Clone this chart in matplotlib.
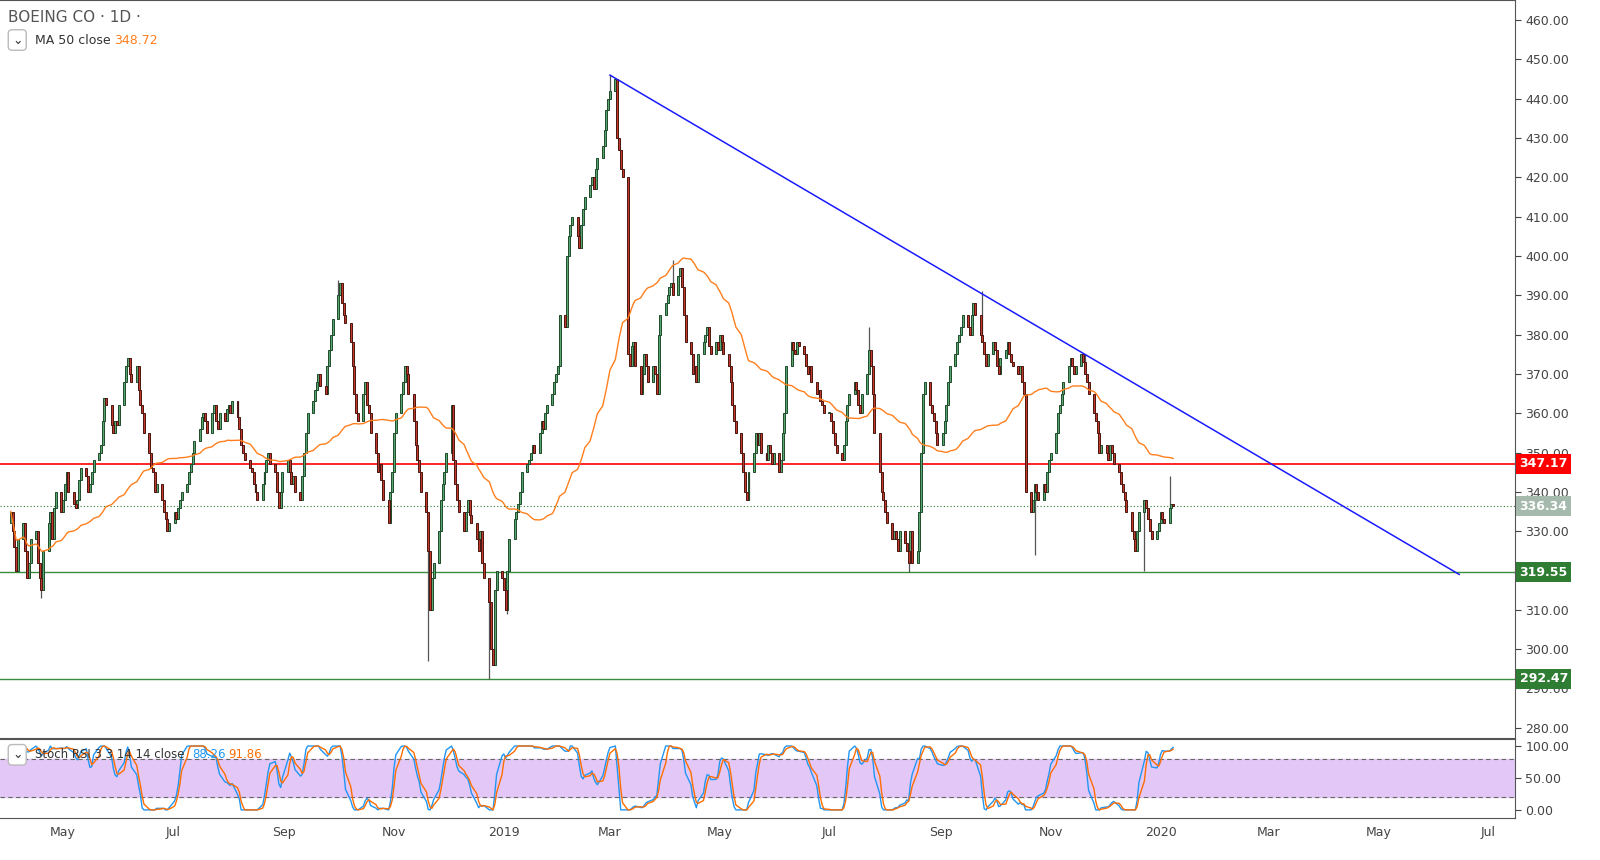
import numpy as np
import pandas as pd
import matplotlib
matplotlib.use("Agg")
import matplotlib.pyplot as plt
import matplotlib.dates as mdates

# daily closes, month by month
c_apr18 = [335, 330, 326, 320, 328, 332, 325, 318, 322, 328,
           330, 322, 318, 315, 325, 332, 335, 328, 336, 340, 335]
c_may18 = [338, 342, 345, 340, 337, 336, 338, 343, 346, 344, 340, 342, 345, 348, 350, 352, 358, 364, 362, 357, 355, 358, 357]
c_jun18 = [362, 368, 372, 374, 370, 368, 372, 366, 362, 360, 355, 350, 346, 345, 340, 342, 338, 335, 333, 330, 332]
c_jul18 = [335, 333, 336, 338, 340, 342, 345, 347, 350, 353, 356, 359, 360, 358, 355, 360, 362, 358, 356, 360, 358, 361]
c_aug18 = [362, 360, 363, 359, 356, 352, 350, 348, 346, 345, 342, 340, 338, 342, 345, 348, 350, 347, 345, 340, 336, 340, 345]
c_sep18 = [348, 345, 342, 344, 340, 338, 344, 350, 355, 360, 363, 366, 368, 370, 367, 365, 372, 376, 380, 384]
c_oct18 = [390, 393, 388, 385, 383, 378, 372, 365, 360, 358, 365, 368, 362, 360, 355, 350, 345, 347, 343, 338, 332, 340, 345]
c_nov18 = [355, 360, 365, 368, 372, 370, 365, 358, 352, 348, 345, 340, 335, 325, 310, 318, 322, 330, 338, 342, 345, 350]
c_dec18 = [362, 348, 342, 338, 335, 330, 335, 338, 334, 332, 328, 325, 330, 322, 318, 312, 300, 296, 315, 320, 318]
c_jan19 = [315, 310, 320, 328, 333, 335, 337, 340, 345, 347, 348, 350, 352, 350, 355, 358, 356, 360, 362, 365, 368, 370, 372]
c_feb19 = [385, 382, 400, 405, 408, 410, 405, 402, 408, 412, 415, 418, 420, 417, 422, 425, 428, 432, 437, 440]
c_mar19 = [442, 445, 430, 427, 422, 420, 375, 372, 377, 378, 372, 365, 370, 375, 372, 368, 372, 370, 365, 380, 385]
c_apr19 = [388, 390, 392, 393, 390, 395, 397, 392, 385, 378, 375, 370, 372, 368, 375, 378, 380, 382, 377, 375, 378, 376]
c_may19 = [380, 378, 375, 372, 368, 362, 358, 355, 350, 345, 340, 338, 345, 350, 355, 352, 355, 350, 348, 352, 350, 347, 350]
c_jun19 = [345, 348, 355, 360, 372, 378, 376, 375, 378, 377, 375, 372, 370, 372, 368, 365, 366, 363, 362, 360]
c_jul19 = [360, 358, 355, 352, 350, 348, 352, 358, 362, 365, 368, 366, 362, 360, 365, 370, 376, 372, 365, 355, 345, 340, 338]
c_aug19 = [335, 332, 328, 330, 328, 325, 330, 327, 325, 322, 330, 322, 325, 335, 350, 365, 368, 362, 360, 358, 355, 352]
c_sep19 = [355, 358, 362, 368, 372, 375, 378, 380, 382, 385, 382, 380, 385, 388, 385, 380, 378, 375, 372, 375, 378]
c_oct19 = [376, 372, 370, 374, 376, 378, 375, 373, 372, 370, 372, 368, 365, 340, 335, 338, 342, 340, 338, 342, 340, 345, 348]
c_nov19 = [350, 355, 360, 362, 365, 368, 372, 374, 372, 370, 372, 375, 373, 370, 368, 365, 360, 358, 355, 350, 352]
c_dec19 = [350, 348, 352, 350, 347, 345, 342, 340, 338, 335, 330, 328, 325, 330, 335, 338, 336, 333, 330, 328, 330, 332]
c_jan20 = [335, 333, 332, 336, 337, 336.34]

# notable wick extremes
wick_high = {"2018-10-01": 394, "2019-03-01": 446, "2019-03-11": 402, "2019-04-05": 399,
             "2019-09-24": 391, "2019-11-20": 375, "2019-07-23": 382, "2020-01-06": 344}
wick_low = {"2018-11-20": 297, "2018-12-24": 292.5, "2019-01-03": 309, "2019-10-23": 324,
            "2018-04-19": 313, "2019-08-14": 319.5, "2019-12-23": 320}

support = [347.17, 319.55, 292.47]
last_price = 336.34
trend_pts = (["2019-03-01", "2020-06-15"], [446, 319])

close = np.array(c_apr18 + c_may18 + c_jun18 + c_jul18 + c_aug18 + c_sep18 + c_oct18 + c_nov18 + c_dec18
                 + c_jan19 + c_feb19 + c_mar19 + c_apr19 + c_may19 + c_jun19 + c_jul19 + c_aug19
                 + c_sep19 + c_oct19 + c_nov19 + c_dec19 + c_jan20, dtype=float)
dates = pd.bdate_range("2018-04-02", periods=len(close))
df = pd.DataFrame({"close": close}, index=dates)
df["open"] = df["close"].shift(1).fillna(df["close"].iloc[0] - 3)
df["high"] = df[["open", "close"]].max(axis=1)
df["low"] = df[["open", "close"]].min(axis=1)
for d, v in wick_high.items():
    if pd.Timestamp(d) in df.index:
        df.loc[pd.Timestamp(d), "high"] = v
for d, v in wick_low.items():
    if pd.Timestamp(d) in df.index:
        df.loc[pd.Timestamp(d), "low"] = v

ma = df["close"].rolling(50, min_periods=1).mean()

# stoch RSI 3 3 14 14
delta = df["close"].diff()
gain = delta.clip(lower=0).ewm(alpha=1 / 14, adjust=False).mean()
loss = (-delta.clip(upper=0)).ewm(alpha=1 / 14, adjust=False).mean()
rsi = 100 - 100 / (1 + gain / loss)
lo = rsi.rolling(14, min_periods=1).min()
hi = rsi.rolling(14, min_periods=1).max()
st = 100 * (rsi - lo) / (hi - lo).replace(0, np.nan)
k = st.rolling(3, min_periods=1).mean()
dline = k.rolling(3, min_periods=1).mean()

W, H = 1600, 860
fig = plt.figure(figsize=(16, 8.6), dpi=100)
ax = fig.add_axes([0, 1 - 738 / H, 1515 / W, 738 / H])
ax2 = fig.add_axes([0, 1 - 818 / H, 1515 / W, 79 / H], sharex=ax)

x = mdates.date2num(df.index)
up = df["close"] >= df["open"]
ax.vlines(x, df["low"], df["high"], color="#555555", lw=0.9, zorder=2)
for m, fc, ec in [(up, "#5aa673", "#1e4d2b"), (~up, "#c0392b", "#4a1510")]:
    bot = df["open"].where(m).combine(df["close"].where(m), min)
    h = (df["close"] - df["open"]).abs().where(m)
    h = h.clip(lower=0.4)
    ax.bar(x[m.values], h[m].values, bottom=bot[m].values, width=1.1, color=fc,
           edgecolor=ec, linewidth=0.7, zorder=3)

ax.plot(x, ma.values, color="#ff7f1e", lw=1.0, zorder=4)
ax.axhline(support[0], color="#ff0000", lw=1.2, zorder=1)
ax.axhline(support[1], color="#388e3c", lw=1.0, zorder=1)
ax.axhline(support[2], color="#388e3c", lw=1.0, zorder=1)
ax.axhline(last_price, color="#2e7d32", lw=0.8, ls=(0, (1, 2)), zorder=1)
ax.plot(mdates.datestr2num(trend_pts[0]), trend_pts[1], color="#1a1aff", lw=1.1, zorder=5)

xmin, xmax = mdates.datestr2num("2018-03-27"), mdates.datestr2num("2020-07-16")
ax.set_xlim(xmin, xmax)
ax.set_ylim(277.4, 465.1)
ax.yaxis.tick_right()
ax.set_yticks(np.arange(280, 461, 10))
ax.set_yticklabels([f"{v:.2f}" for v in np.arange(280, 461, 10)])
ax.tick_params(axis="y", labelsize=9, colors="#444444", length=4, direction="out")
ax.tick_params(axis="x", labelbottom=False, length=0)
for s in ax.spines.values():
    s.set_color("#555555")
    s.set_linewidth(0.8)
ax.spines["left"].set_visible(False)

tag = dict(fontsize=9, fontweight="bold", color="white", va="center", ha="left",
           transform=ax.get_yaxis_transform(), clip_on=False)
ax.text(1.003, support[0], "347.17", bbox=dict(fc="#ff0000", ec="none", pad=2.5), **tag)
ax.text(1.003, support[1], "319.55", bbox=dict(fc="#2e7d32", ec="none", pad=2.5), **tag)
ax.text(1.003, support[2], "292.47", bbox=dict(fc="#2e7d32", ec="none", pad=2.5), **tag)
ax.text(1.003, last_price, "336.34", bbox=dict(fc="#a5b9ad", ec="none", pad=2.5), **tag)

ax.text(8 / 1515, 1 - 17 / 738, "BOEING CO · 1D ·", transform=ax.transAxes, fontsize=11,
        color="#555555", va="center")
ax.text(12 / 1515, 1 - 40 / 738, "⌄", transform=ax.transAxes, fontsize=9, color="#333333",
        va="center", bbox=dict(fc="white", ec="#bbbbbb", boxstyle="round,pad=0.3"))
ax.text(35 / 1515, 1 - 40 / 738, "MA 50 close", transform=ax.transAxes, fontsize=9,
        color="#333333", va="center")
ax.text(114 / 1515, 1 - 40 / 738, "348.72", transform=ax.transAxes, fontsize=9,
        color="#ff7f1e", va="center")

# stoch panel
ax2.axhspan(20, 80, color="#e3c8f7", zorder=0)
ax2.axhline(80, color="#666666", lw=0.8, ls=(0, (4, 3)))
ax2.axhline(20, color="#666666", lw=0.8, ls=(0, (4, 3)))
ax2.plot(x, k.values, color="#2196f3", lw=1.0)
ax2.plot(x, dline.values, color="#ff6d00", lw=1.0)
ax2.set_ylim(-12.7, 111)
ax2.yaxis.tick_right()
ax2.set_yticks([0, 50, 100])
ax2.set_yticklabels(["0.00", "50.00", "100.00"])
ax2.tick_params(axis="y", labelsize=9, colors="#444444", length=4)
for s in ax2.spines.values():
    s.set_color("#555555")
    s.set_linewidth(0.8)
ax2.spines["left"].set_visible(False)
ax2.text(12 / 1515, 0.8, "⌄", transform=ax2.transAxes, fontsize=9, color="#333333",
         va="center", bbox=dict(fc="white", ec="#bbbbbb", boxstyle="round,pad=0.3"))
ax2.text(35 / 1515, 0.8, "Stoch RSI 3 3 14 14 close", transform=ax2.transAxes,
         fontsize=8.5, color="#333333", va="center")
ax2.text(192 / 1515, 0.8, "88.26", transform=ax2.transAxes, fontsize=8.5,
         color="#2196f3", va="center")
ax2.text(228 / 1515, 0.8, "91.86", transform=ax2.transAxes, fontsize=8.5,
         color="#ff6d00", va="center")

ticks = ["2018-05-01", "2018-07-01", "2018-09-01", "2018-11-01", "2019-01-01", "2019-03-01",
         "2019-05-01", "2019-07-01", "2019-09-01", "2019-11-01", "2020-01-01", "2020-03-01",
         "2020-05-01", "2020-07-01"]
tlabels = ["May", "Jul", "Sep", "Nov", "2019", "Mar", "May", "Jul", "Sep", "Nov", "2020",
           "Mar", "May", "Jul"]
ax2.set_xticks(mdates.datestr2num(ticks))
ax2.set_xticklabels(tlabels)
ax2.tick_params(axis="x", labelsize=9, colors="#444444", length=0, pad=6)

fig.savefig("out.png", dpi=100)
